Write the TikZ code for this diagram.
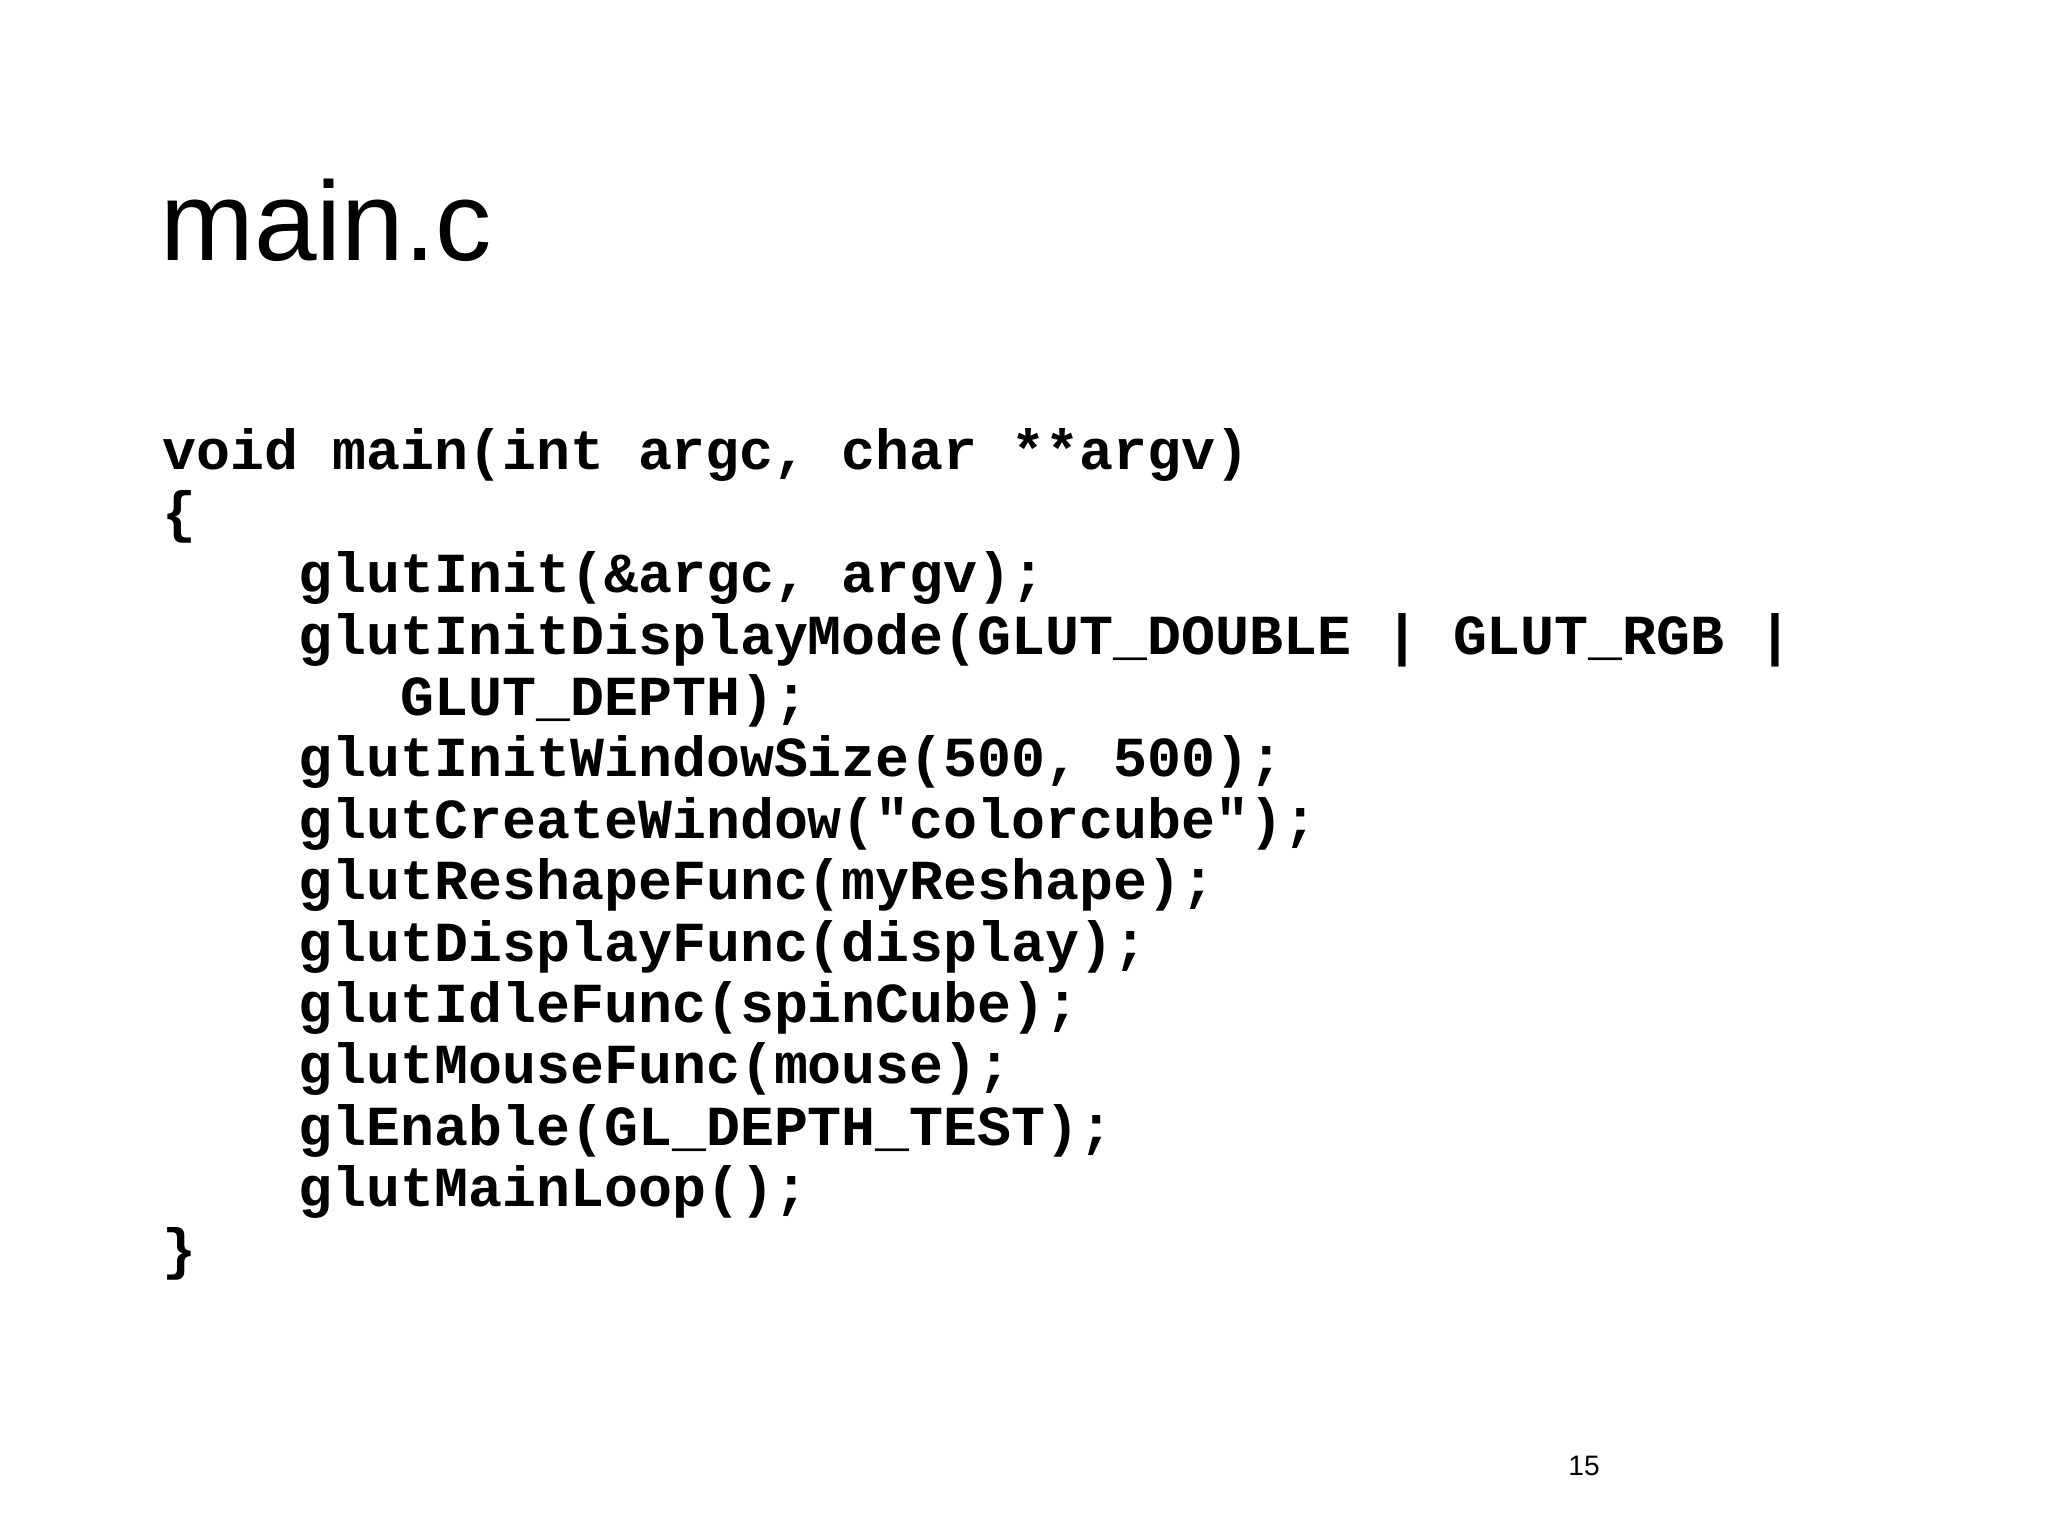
\documentclass[tikz,border=0pt]{standalone}
\usepackage{fontspec}
\setmainfont{Liberation Sans}
\setmonofont{Liberation Mono}
\begin{document}
\begin{tikzpicture}[x=1cm,y=1cm,
  code/.style={anchor=base west,inner sep=0pt,font=\fontsize{16.1pt}{17.5pt}\selectfont\ttfamily\bfseries}]
\useasboundingbox (0,0) rectangle (20.48,-15.36);
\node[anchor=base west,inner sep=0pt,font=\fontsize{32pt}{38pt}\selectfont] (title) at (1.60,-2.61) {main.c};
\def\dy{0.614}
\def\xa{1.62}
\def\xb{2.98}
\def\xc{4.00}
\node[code] (l1) at (\xa,-4.70) {void main(int argc, char **argv)};
\node[code] (l2) at (\xa,-4.70-1*\dy) {\{};
\node[code] (l3) at (\xb,-4.70-2*\dy) {glutInit(\&argc, argv);};
\node[code] (l4) at (\xb,-4.70-3*\dy) {glutInitDisplayMode(GLUT\_DOUBLE | GLUT\_RGB |};
\node[code] (l5) at (\xc,-4.70-4*\dy) {GLUT\_DEPTH);};
\node[code] (l6) at (\xb,-4.70-5*\dy) {glutInitWindowSize(500, 500);};
\node[code] (l7) at (\xb,-4.70-6*\dy) {glutCreateWindow("colorcube");};
\node[code] (l8) at (\xb,-4.70-7*\dy) {glutReshapeFunc(myReshape);};
\node[code] (l9) at (\xb,-4.70-8*\dy) {glutDisplayFunc(display);};
\node[code] (l10) at (\xb,-4.70-9*\dy) {glutIdleFunc(spinCube);};
\node[code] (l11) at (\xb,-4.70-10*\dy) {glutMouseFunc(mouse);};
\node[code] (l12) at (\xb,-4.70-11*\dy) {glEnable(GL\_DEPTH\_TEST);};
\node[code] (l13) at (\xb,-4.70-12*\dy) {glutMainLoop();};
\node[code] (l14) at (\xa,-4.70-13*\dy) {\}};
\node[anchor=base,inner sep=0pt,font=\fontsize{8pt}{10pt}\selectfont] (pg) at (15.84,-14.75) {15};
\end{tikzpicture}
\end{document}
